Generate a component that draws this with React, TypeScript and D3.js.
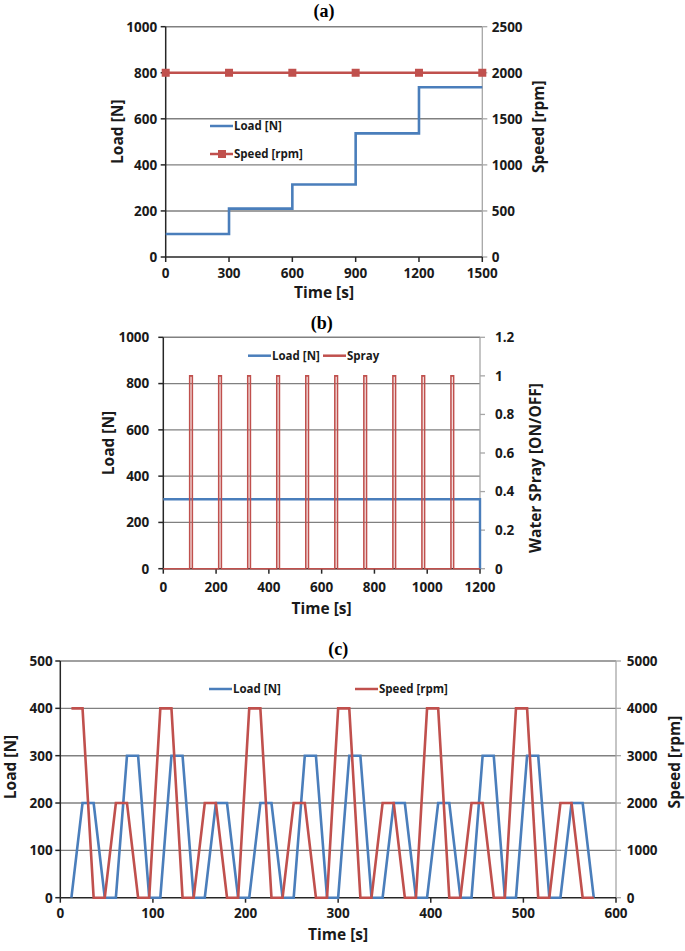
import { useEffect } from "react";
import * as d3 from "d3";

const BLUE = "#4a7ebb";
const RED = "#c0504d";
const GRID = "#808080";
const AXIS = "#262626";
const RAXIS = "#a6a6a6";
const FONT = "'Open Sans', 'DejaVu Sans', sans-serif";

// ---- (a) step load test ----
const aTime = [0, 300, 600, 900, 1200, 1500];
const aLoad = [100, 210, 315, 537, 737, 737];
const aSpeed = [2000, 2000, 2000, 2000, 2000, 2000];
const aXTicks = [0, 300, 600, 900, 1200, 1500];
const aLoadTicks = [0, 200, 400, 600, 800, 1000];
const aSpeedTicks = [0, 500, 1000, 1500, 2000, 2500];

// ---- (b) water spray test ----
const bLoadTime = [0, 1200, 1200];
const bLoad = [300, 300, 0];
const bSprayStart = [100, 210, 320, 430, 540, 650, 760, 870, 980, 1090];
const bSprayLength = 10;
const bEnd = 1200;
const bXTicks = [0, 200, 400, 600, 800, 1000, 1200];
const bLoadTicks = [0, 200, 400, 600, 800, 1000];
const bSprayTicks = [0, 0.2, 0.4, 0.6, 0.8, 1, 1.2];

// ---- (c) cyclic load / speed ----
const cTime = [
  12, 24, 36, 48, 60, 72, 84, 96, 108, 120, 132, 144, 156, 168, 180, 192,
  204, 216, 228, 240, 252, 264, 276, 288, 300, 312, 324, 336, 348, 360, 372,
  384, 396, 408, 420, 432, 444, 456, 468, 480, 492, 504, 516, 528, 540, 552,
  564, 576,
];
const cLoad = [
  0, 200, 200, 0, 0, 300, 300, 0, 0, 300, 300, 0, 0, 200, 200, 0,
  0, 200, 200, 0, 0, 300, 300, 0, 0, 300, 300, 0, 0, 200, 200,
  0, 0, 200, 200, 0, 0, 300, 300, 0, 0, 300, 300, 0, 0, 200,
  200, 0,
];
const cSpeed = [
  4000, 4000, 0, 0, 2000, 2000, 0, 0, 4000, 4000, 0, 0, 2000, 2000, 0, 0,
  4000, 4000, 0, 0, 2000, 2000, 0, 0, 4000, 4000, 0, 0, 2000, 2000, 0,
  0, 4000, 4000, 0, 0, 2000, 2000, 0, 0, 4000, 4000, 0, 0, 2000,
  2000, 0, 0,
];
const cXTicks = [0, 100, 200, 300, 400, 500, 600];
const cLoadTicks = [0, 100, 200, 300, 400, 500];
const cSpeedTicks = [0, 1000, 2000, 3000, 4000, 5000];

type Pt = [number, number];

interface FrameProps {
  title: string;
  titleY: number;
  x: d3.ScaleLinear<number, number>;
  yl: d3.ScaleLinear<number, number>;
  yr: d3.ScaleLinear<number, number>;
  xTicks: number[];
  lTicks: number[];
  rTicks: number[];
  lGap: number;
  rGap: number;
  xTickY: number;
  xLabelY: number;
  lLabel: string;
  lLabelX: number;
  lLabelY: number;
  rLabel: string;
  rLabelX: number;
  rLabelY: number;
  children?: React.ReactNode;
}

function Frame(p: FrameProps) {
  const [x0, x1] = p.x.range();
  const [yB, yT] = p.yl.range();
  return (
    <g>
      <text x={(x0 + x1) / 2} y={p.titleY} textAnchor="middle"
        fontFamily="'Liberation Serif', 'Times New Roman', serif" fontWeight="bold" fontSize={18}>
        {p.title}
      </text>
      {p.lTicks.filter((t) => t > 0).map((t) => (
        <line key={"g" + t} x1={x0} x2={x1} y1={p.yl(t)} y2={p.yl(t)} stroke={GRID} strokeWidth={1.4} />
      ))}
      {/* right axis */}
      <line x1={x1} x2={x1} y1={yT} y2={yB} stroke={RAXIS} strokeWidth={1.3} />
      {p.rTicks.map((t) => (
        <g key={"r" + t}>
          <line x1={x1} x2={x1 + 5} y1={p.yr(t)} y2={p.yr(t)} stroke={RAXIS} strokeWidth={1.3} />
          <text x={x1 + p.rGap} y={p.yr(t)} dy="0.36em" fontFamily={FONT} fontWeight="bold" fontSize={13.5} fill="#1a1a1a">
            {t}
          </text>
        </g>
      ))}
      {/* left axis */}
      <line x1={x0} x2={x0} y1={yT} y2={yB} stroke={AXIS} strokeWidth={1.5} />
      {p.lTicks.map((t) => (
        <g key={"l" + t}>
          <line x1={x0 - 5} x2={x0} y1={p.yl(t)} y2={p.yl(t)} stroke={AXIS} strokeWidth={1.5} />
          <text x={x0 - p.lGap} y={p.yl(t)} dy="0.36em" textAnchor="end" fontFamily={FONT} fontWeight="bold" fontSize={13.5} fill="#1a1a1a">
            {t}
          </text>
        </g>
      ))}
      {/* bottom axis */}
      <line x1={x0} x2={x1} y1={yB} y2={yB} stroke={AXIS} strokeWidth={1.5} />
      {p.xTicks.map((t) => (
        <g key={"x" + t}>
          <line x1={p.x(t)} x2={p.x(t)} y1={yB} y2={yB + 5} stroke={AXIS} strokeWidth={1.5} />
          <text x={p.x(t)} y={p.xTickY} textAnchor="middle" fontFamily={FONT} fontWeight="bold" fontSize={13.5} fill="#1a1a1a">
            {t}
          </text>
        </g>
      ))}
      <text x={(x0 + x1) / 2} y={p.xLabelY} textAnchor="middle" fontFamily={FONT} fontWeight="bold" fontSize={15.5} fill="#1a1a1a">
        Time [s]
      </text>
      <text transform={`translate(${p.lLabelX},${p.lLabelY}) rotate(-90)`} textAnchor="middle" dy="0.35em"
        fontFamily={FONT} fontWeight="bold" fontSize={15.5} fill="#1a1a1a">
        {p.lLabel}
      </text>
      <text transform={`translate(${p.rLabelX},${p.rLabelY}) rotate(-90)`} textAnchor="middle" dy="0.35em"
        fontFamily={FONT} fontWeight="bold" fontSize={15.5} fill="#1a1a1a">
        {p.rLabel}
      </text>
      {p.children}
    </g>
  );
}

function Legend({ x, y, color, label, marker }: { x: number; y: number; color: string; label: string; marker?: boolean }) {
  return (
    <g>
      <line x1={x} x2={x + 23} y1={y} y2={y} stroke={color} strokeWidth={2.5} />
      {marker && <rect x={x + 8} y={y - 4} width={8} height={8} fill={color} />}
      <text x={x + 24} y={y} dy="0.36em" fontFamily={FONT} fontWeight="bold" fontSize={11.5} fill="#1a1a1a">
        {label}
      </text>
    </g>
  );
}

export default function App() {
  useEffect(() => {
    document.body.style.margin = "0";
  }, []);

  // (a)
  const ax = d3.scaleLinear().domain([0, 1500]).range([165.7, 482.3]);
  const ayl = d3.scaleLinear().domain([0, 1000]).range([257, 26.7]);
  const ayr = d3.scaleLinear().domain([0, 2500]).range([257, 26.7]);
  const aLoadPath = d3.line<number>().x((_, i) => ax(aTime[i])).y((d) => ayl(d)).curve(d3.curveStepAfter)(aLoad) || "";
  const aSpeedPath = d3.line<number>().x((_, i) => ax(aTime[i])).y((d) => ayr(d))(aSpeed) || "";

  // (b)
  const bx = d3.scaleLinear().domain([0, 1200]).range([163.3, 480]);
  const byl = d3.scaleLinear().domain([0, 1000]).range([568.7, 337.3]);
  const byr = d3.scaleLinear().domain([0, 1.2]).range([568.7, 337.3]);
  const bLoadPath = d3.line<number>().x((_, i) => bx(bLoadTime[i])).y((d) => byl(d))(bLoad) || "";
  const sprayPts: Pt[] = [[0, 0]];
  bSprayStart.forEach((s) => {
    sprayPts.push([s, 0], [s, 1], [s + bSprayLength, 1], [s + bSprayLength, 0]);
  });
  sprayPts.push([bEnd, 0]);
  const bSprayPath = d3.line<Pt>().x((d) => bx(d[0])).y((d) => byr(d[1]))(sprayPts) || "";

  // (c)
  const cx = d3.scaleLinear().domain([0, 600]).range([60.3, 616]);
  const cyl = d3.scaleLinear().domain([0, 500]).range([897.7, 661]);
  const cyr = d3.scaleLinear().domain([0, 5000]).range([897.7, 661]);
  const cLoadPath = d3.line<number>().x((_, i) => cx(cTime[i])).y((d) => cyl(d))(cLoad) || "";
  const cSpeedPath = d3.line<number>().x((_, i) => cx(cTime[i])).y((d) => cyr(d))(cSpeed) || "";

  return (
    <svg width={685} height={951} style={{ display: "block", background: "#fff" }}>
      <Frame title="(a)" titleY={17} x={ax} yl={ayl} yr={ayr} xTicks={aXTicks} lTicks={aLoadTicks} rTicks={aSpeedTicks}
        lGap={8.5} rGap={9.4} xTickY={278} xLabelY={298} lLabel="Load [N]" lLabelX={118} lLabelY={131.7}
        rLabel="Speed [rpm]" rLabelX={538.5} rLabelY={126.7}>
        <path d={aLoadPath} fill="none" stroke={BLUE} strokeWidth={2.6} />
        <path d={aSpeedPath} fill="none" stroke={RED} strokeWidth={2.6} />
        {aSpeed.map((v, i) => (
          <rect key={i} x={ax(aTime[i]) - 4} y={ayr(v) - 4} width={8} height={8} fill={RED} />
        ))}
        <Legend x={210} y={126} color={BLUE} label="Load [N]" />
        <Legend x={210} y={154} color={RED} label="Speed [rpm]" marker />
      </Frame>

      <Frame title="(b)" titleY={329} x={bx} yl={byl} yr={byr} xTicks={bXTicks} lTicks={bLoadTicks} rTicks={bSprayTicks}
        lGap={14} rGap={15} xTickY={592} xLabelY={614} lLabel="Load [N]" lLabelX={108.5} lLabelY={443}
        rLabel="Water SPray [ON/OFF]" rLabelX={535.5} rLabelY={468}>
        <path d={bLoadPath} fill="none" stroke={BLUE} strokeWidth={2.4} />
        <path d={bSprayPath} fill="none" stroke={RED} strokeWidth={1.6} />
        <Legend x={248} y={355.7} color={BLUE} label="Load [N]" />
        <Legend x={323} y={355.7} color={RED} label="Spray" />
      </Frame>

      <Frame title="(c)" titleY={655} x={cx} yl={cyl} yr={cyr} xTicks={cXTicks} lTicks={cLoadTicks} rTicks={cSpeedTicks}
        lGap={7.6} rGap={10.7} xTickY={918} xLabelY={940} lLabel="Load [N]" lLabelX={11} lLabelY={767}
        rLabel="Speed [rpm]" rLabelX={675} rLabelY={762}>
        <path d={cLoadPath} fill="none" stroke={BLUE} strokeWidth={2.6} />
        <path d={cSpeedPath} fill="none" stroke={RED} strokeWidth={2.6} />
        <Legend x={209} y={689} color={BLUE} label="Load [N]" />
        <Legend x={355} y={689} color={RED} label="Speed [rpm]" />
      </Frame>
    </svg>
  );
}
